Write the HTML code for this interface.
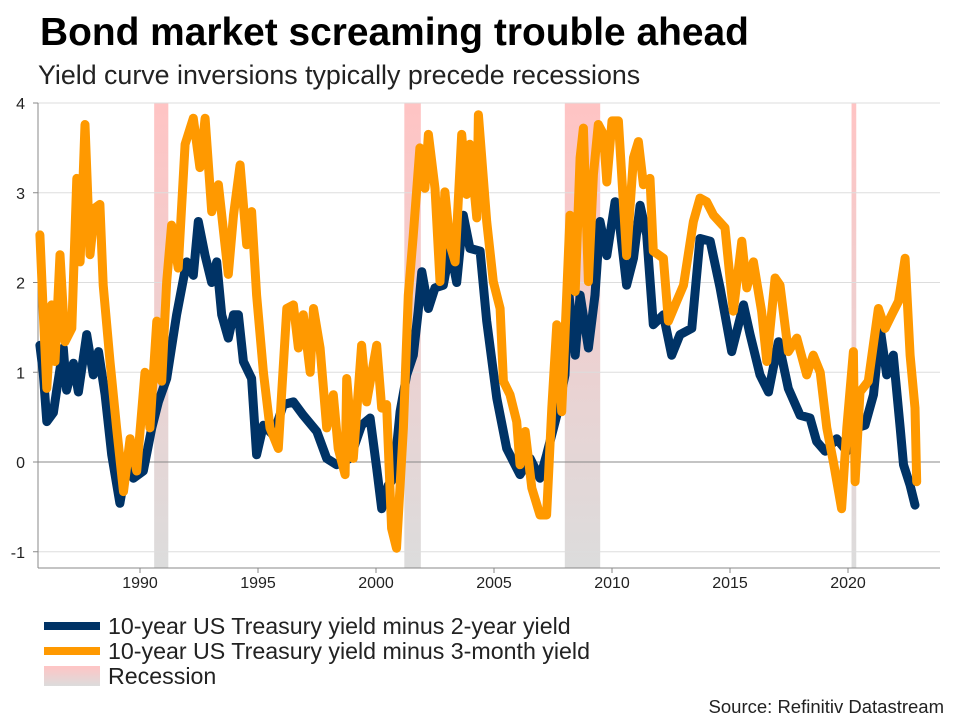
<!DOCTYPE html>
<html><head><meta charset="utf-8"><style>
body{margin:0;background:#fff;font-family:"Liberation Sans",Arial,sans-serif}
svg text{font-family:"Liberation Sans",Arial,sans-serif}
</style></head><body>
<svg width="960" height="720" viewBox="0 0 960 720">
<defs><linearGradient id="rg" x1="0" y1="0" x2="0" y2="1"><stop offset="0" stop-color="#ffc4c4"/><stop offset="1" stop-color="#dcdcdc"/></linearGradient></defs>
<text x="40" y="45" font-size="38.9" font-weight="bold" fill="#000">Bond market screaming trouble ahead</text>
<text x="38" y="84" font-size="26.8" fill="#222">Yield curve inversions typically precede recessions</text>
<g id="rec"></g><g id="grid"></g><g id="axes"></g><g id="lines"></g>
<g>
<line x1="44" y1="626" x2="100" y2="626" stroke="#003366" stroke-width="8"/>
<text x="108" y="634" font-size="23.2" fill="#222">10-year US Treasury yield minus 2-year yield</text>
<line x1="44" y1="651" x2="100" y2="651" stroke="#ff9900" stroke-width="8"/>
<text x="108" y="659" font-size="23.2" fill="#222">10-year US Treasury yield minus 3-month yield</text>
<rect x="44" y="666" width="56" height="20" fill="url(#rg)"/>
<text x="108" y="684" font-size="23.2" fill="#222">Recession</text>
</g>
<text x="944" y="713" font-size="18.5" fill="#222" text-anchor="end">Source: Refinitiv Datastream</text>
</svg>
<script>
const yTicks=[-1,0,1,2,3,4];
const xTicks=[1990,1995,2000,2005,2010,2015,2020];
const recStart=[1990.6,2001.2,2008.0,2020.15];
const recEnd=[1991.2,2001.9,2009.5,2020.35];
const yrsA=[1985.76,1985.90,1986.05,1986.33,1986.47,1986.75,1986.89,1987.18,1987.39,1987.74,1988.02,1988.24,1988.52,1988.80,1989.15,1989.44,1989.72,1990.14,1990.50,1990.78,1991.13,1991.55,1991.98,1992.26,1992.47,1992.76,1993.04,1993.25,1993.46,1993.74,1993.96,1994.17,1994.38,1994.73,1994.94,1995.23,1995.65,1996.07,1996.50,1996.92,1997.49,1997.91,1998.33,1998.90,1999.39,1999.75,2000.03,2000.24,2000.52,2000.74,2001.02,2001.30,2001.58,2001.79,2001.94,2002.22,2002.50,2002.85,2003.14,2003.42,2003.70,2003.98,2004.41,2004.69,2005.12,2005.54,2006.10,2006.53,2006.95,2007.23,2007.66,2008.01,2008.15,2008.44,2008.65,2009.00,2009.28,2009.49,2009.78,2010.13,2010.34,2010.62,2010.91,2011.19,2011.47,2011.75,2012.18,2012.53,2012.88,2013.38,2013.73,2014.16,2014.58,2015.07,2015.57,2015.85,2016.27,2016.63,2017.05,2017.47,2017.97,2018.39,2018.67,2019.03,2019.52,2019.95,2020.37,2020.72,2021.08,2021.36,2021.64,2021.92,2022.21,2022.35,2022.63,2022.84];
const valsA=[1.3,1.0,0.45,0.55,0.8,1.27,0.8,1.1,0.78,1.42,0.97,1.23,0.75,0.08,-0.46,0,-0.18,-0.1,0.38,0.67,0.93,1.64,2.23,2.08,2.68,2.3,2.0,2.23,1.64,1.38,1.64,1.64,1.12,0.93,0.08,0.41,0.3,0.64,0.67,0.52,0.34,0.04,-0.03,0.04,0.41,0.49,-0.07,-0.52,-0.26,-0.18,0.56,0.97,1.19,1.68,2.12,1.71,1.94,1.97,2.38,2.0,2.75,2.38,2.35,1.57,0.71,0.15,-0.14,0.04,-0.18,0.08,0.52,0.97,1.94,1.19,1.86,1.27,1.86,2.68,2.3,2.9,2.61,1.97,2.27,2.86,2.53,1.53,1.64,1.19,1.42,1.49,2.49,2.46,1.94,1.23,1.75,1.42,0.97,0.78,1.34,0.82,0.52,0.49,0.23,0.12,0.26,0.12,0.38,0.41,0.75,1.49,0.97,1.19,0.38,-0.03,-0.26,-0.48];
const yrsB=[1985.76,1985.90,1986.05,1986.26,1986.40,1986.61,1986.82,1987.11,1987.32,1987.46,1987.67,1987.88,1988.09,1988.30,1988.44,1988.73,1989.01,1989.30,1989.58,1989.86,1990.21,1990.42,1990.71,1990.92,1991.13,1991.34,1991.62,1991.91,1992.26,1992.54,1992.76,1993.04,1993.32,1993.60,1993.74,1993.96,1994.24,1994.52,1994.73,1994.94,1995.23,1995.51,1995.86,1996.22,1996.50,1996.71,1996.92,1997.21,1997.35,1997.63,1997.91,1998.19,1998.40,1998.69,1998.76,1999.04,1999.39,1999.60,2000.03,2000.24,2000.45,2000.66,2000.87,2001.16,2001.37,2001.58,2001.86,2002.07,2002.22,2002.50,2002.71,2002.92,2003.14,2003.35,2003.63,2003.84,2003.98,2004.27,2004.34,2004.69,2004.97,2005.26,2005.40,2005.68,2005.96,2006.10,2006.32,2006.60,2006.95,2007.23,2007.45,2007.66,2007.87,2008.08,2008.22,2008.44,2008.65,2008.79,2009.00,2009.21,2009.42,2009.64,2009.78,2010.00,2010.27,2010.62,2010.91,2011.12,2011.33,2011.61,2011.75,2012.18,2012.39,2012.74,2013.03,2013.45,2013.73,2014.01,2014.30,2014.79,2015.14,2015.50,2015.71,2015.99,2016.34,2016.56,2016.91,2017.12,2017.47,2017.83,2018.25,2018.53,2018.82,2019.10,2019.38,2019.73,2019.95,2020.23,2020.30,2020.51,2020.86,2021.29,2021.57,2021.85,2022.14,2022.42,2022.63,2022.84,2022.91];
const valsB=[2.53,1.68,0.82,1.75,1.12,2.31,1.34,1.49,3.16,2.23,3.76,2.31,2.83,2.87,1.97,1.12,0.38,-0.33,0.26,-0.1,1.0,0.38,1.57,0.9,2.01,2.64,2.16,3.54,3.83,3.28,3.83,2.79,3.09,2.42,2.09,2.75,3.31,2.42,2.79,1.86,1.0,0.38,0.15,1.71,1.75,1.27,1.64,1.0,1.71,1.27,0.38,0.75,0.15,-0.14,0.93,0.04,1.3,0.67,1.3,0.6,0.64,-0.74,-0.96,0.38,1.86,2.53,3.5,3.05,3.65,3.05,2.01,3.01,2.42,2.23,3.65,2.98,3.54,2.72,3.87,2.68,2.01,1.71,0.9,0.75,0.45,-0.03,0.34,-0.29,-0.59,-0.59,0.6,1.53,0.56,1.86,2.75,1.90,3.39,3.72,2.01,3.2,3.76,3.65,3.12,3.8,3.8,2.3,3.39,3.57,3.09,3.16,2.35,2.27,1.57,1.79,1.97,2.68,2.94,2.9,2.75,2.61,1.68,2.46,1.94,2.23,1.68,1.12,2.05,1.97,1.23,1.38,0.97,1.19,1.0,0.38,0,-0.52,0.38,1.23,-0.22,0.78,0.9,1.71,1.49,1.64,1.79,2.27,1.19,0.6,-0.22];
const NS="http://www.w3.org/2000/svg";
const L=38,R=940,T=103,B=568;
const xScale=y=>376+(y-2000)*23.6;
const yScale=v=>462-v*89.75;
function mk(tag,attrs,parent){const e=document.createElementNS(NS,tag);for(const k in attrs)e.setAttribute(k,attrs[k]);parent.appendChild(e);return e;}
const rec=document.getElementById('rec'),grid=document.getElementById('grid'),axes=document.getElementById('axes'),lines=document.getElementById('lines');
recStart.forEach((s,i)=>{
 const r=mk('rect',{x:xScale(s),y:T,width:xScale(recEnd[i])-xScale(s),height:B-T,fill:'url(#rg)'},rec);
 
 
});
yTicks.forEach(v=>{
 const g=mk('line',{x1:L,x2:R,y1:yScale(v),y2:yScale(v),stroke:v===0?'#888':'#ddd','stroke-width':1},grid);
 
 
 const t=mk('text',{x:25,y:yScale(v)+6,'font-size':16,fill:'#222','text-anchor':'end'},axes);
 t.textContent=v;
 
 
 mk('line',{x1:L-5,x2:L,y1:yScale(v),y2:yScale(v),stroke:'#888'},axes);
});
const ya=mk('line',{x1:L,x2:L,y1:T,y2:B,stroke:'#888'},axes);


const xa=mk('line',{x1:L,x2:R,y1:B,y2:B,stroke:'#888'},axes);


xTicks.forEach(y=>{
 mk('line',{x1:xScale(y),x2:xScale(y),y1:B,y2:B+5,stroke:'#888'},axes);
 const t=mk('text',{x:xScale(y),y:B+20,'font-size':16,fill:'#222','text-anchor':'middle'},axes);
 t.textContent=y;
 
 
});
function path(ys,vs,color,name){
 const d=ys.map((y,i)=>(i?'L':'M')+xScale(y).toFixed(1)+','+yScale(vs[i]).toFixed(1)).join('');
 const p=mk('path',{d:d,fill:'none',stroke:color,'stroke-width':9,'stroke-linejoin':'round','stroke-linecap':'round'},lines);
 
 
}
path(yrsA,valsA,'#003366','line-10y-minus-2y');
path(yrsB,valsB,'#ff9900','line-10y-minus-3m');
</script>
</body></html>
